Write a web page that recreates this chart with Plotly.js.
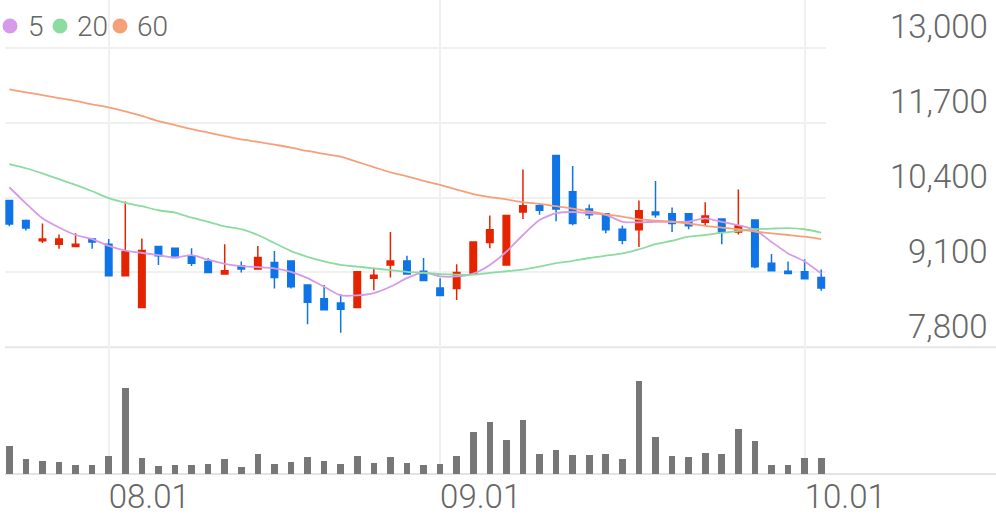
<!DOCTYPE html>
<html>
<head>
<meta charset="utf-8">
<script src="https://cdn.plot.ly/plotly-3.0.1.min.js"></script>
<style>
  html, body { margin: 0; padding: 0; background: #ffffff; }
  #chart { width: 996px; height: 519px; }
</style>
</head>
<body>
<div id="chart"></div>
<script>
// ---------- data ----------
const dates = [
  '2020-07-24','2020-07-27','2020-07-28','2020-07-29','2020-07-30','2020-07-31',
  '2020-08-03','2020-08-04','2020-08-05','2020-08-06','2020-08-07',
  '2020-08-10','2020-08-11','2020-08-12','2020-08-13','2020-08-14',
  '2020-08-18','2020-08-19','2020-08-20','2020-08-21',
  '2020-08-24','2020-08-25','2020-08-26','2020-08-27','2020-08-28','2020-08-31',
  '2020-09-01','2020-09-02','2020-09-03','2020-09-04',
  '2020-09-07','2020-09-08','2020-09-09','2020-09-10','2020-09-11',
  '2020-09-14','2020-09-15','2020-09-16','2020-09-17','2020-09-18',
  '2020-09-21','2020-09-22','2020-09-23','2020-09-24','2020-09-25',
  '2020-09-28','2020-09-29','2020-09-30',
  '2020-10-05','2020-10-06'
];
const openP  = [10350,10000,9650,9590,9550,9680,9590,9040,8490,9550,
                9520,9390,9290,9070,9210,9160,9270,9300,8880,8640,
                8570,8490,9000,9230,9300,9120,8830,8820,9070,9620,
                9230,10150,10260,11130,10500,10200,10120,9850,9840,10150,
                10120,10120,9970,10030,9800,10010,9260,9120,9110,9010];
const highP  = [10350,10020,9950,9760,9780,9690,9680,10330,9690,9550,
                9520,9520,9350,9590,9290,9560,9470,9300,8880,8880,
                8720,9110,9180,9800,9390,9350,9000,9240,9630,10090,
                10090,10890,10300,11130,10950,10280,10120,9910,10350,10690,
                10230,10120,10320,10030,10540,10010,9420,9290,9330,9150];
const lowP   = [9900,9830,9610,9510,9550,9510,9040,9040,8490,9230,
                9360,9210,9100,9070,9100,9160,8820,8820,8200,8450,
                8050,8490,8790,9010,9070,8960,8700,8620,9070,9520,
                9230,10030,10100,9990,9920,10030,9780,9590,9540,10050,
                9800,9850,9920,9590,9760,9170,9130,9080,8990,8780];
const closeP = [9940,9870,9680,9680,9590,9630,9040,9460,9480,9390,
                9360,9260,9100,9130,9160,9360,9010,8850,8580,8450,
                8460,9110,9050,9300,9070,8960,8700,9100,9630,9840,
                10090,10260,10180,10200,9950,10100,9840,9660,10170,10100,
                9950,9910,10080,9800,9910,9200,9130,9080,8990,8830];
const volume = [276000,153000,126000,123000,86000,90000,183000,860000,163000,80000,
                93000,86000,103000,153000,70000,200000,100000,123000,170000,133000,
                100000,183000,110000,170000,106000,90000,100000,180000,416000,523000,
                336000,540000,196000,243000,190000,193000,196000,150000,930000,373000,
                176000,170000,213000,200000,450000,326000,86000,93000,160000,163000];
const ma5  = [10580,10300,10040,9880,9750,9680,9560,9480,9440,9400,
              9360,9400,9320,9250,9210,9190,9170,9110,9000,8850,
              8700,8700,8740,8850,9000,9100,9030,9030,9080,9230,
              9460,9750,10010,10130,10150,10130,10100,9980,9970,9980,
              9980,9980,10040,9980,9920,9840,9630,9430,9290,9080];
const ma20 = [10980,10910,10820,10720,10620,10510,10390,10310,10250,10180,
              10140,10050,9980,9900,9850,9750,9610,9470,9370,9290,
              9230,9200,9170,9140,9110,9090,9070,9060,9060,9090,
              9120,9150,9200,9260,9300,9350,9390,9430,9500,9590,
              9650,9720,9750,9790,9820,9850,9860,9870,9850,9790];
const ma60 = [12280,12230,12180,12130,12080,12020,11970,11900,11820,11730,
              11660,11590,11530,11470,11410,11370,11320,11270,11210,11160,
              11110,11020,10930,10840,10770,10690,10620,10540,10460,10410,
              10370,10320,10290,10250,10210,10160,10110,10070,10020,10000,
              9980,9950,9910,9880,9850,9810,9780,9750,9720,9680];
const priceTicks = [7800, 9100, 10400, 11700, 13000];
const priceTickText = ['7,800', '9,100', '10,400', '11,700', '13,000'];
const dateTicks = ['2020-08-03', '2020-09-01', '2020-10-05'];
const dateTickText = ['08.01', '09.01', '10.01'];
const maNames = ['5', '20', '60'];
const maColors = ['#d69ae9', '#8cdba0', '#f6a07a'];

// ---------- geometry helpers (pixels -> paper) ----------
const W = 996, H = 519;
const M = { l: 5, r: 170, t: 0, b: 45 };
const plotW = W - M.l - M.r, plotH = H - M.t - M.b;
const px = x => (x - M.l) / plotW;
const py = y => (H - M.b - y) / plotH;
const splitY = 347.2;           // price / volume boundary in px
const split = py(splitY);

const FONT = 'Roboto, "Open Sans", sans-serif';
const TXT = '#666666';

// ---------- traces ----------
const traces = [];
traces.push({
  type: 'candlestick', x: dates, open: openP, high: highP, low: lowP, close: closeP,
  xaxis: 'x', yaxis: 'y',
  increasing: { line: { color: '#e42400', width: 1.5 }, fillcolor: '#e42400' },
  decreasing: { line: { color: '#0f74e6', width: 1.5 }, fillcolor: '#0f74e6' },
  whiskerwidth: 0, hoverinfo: 'skip', showlegend: false
});
[ma5, ma20, ma60].forEach((arr, i) => {
  traces.push({
    type: 'scatter', mode: 'lines', x: dates, y: arr, xaxis: 'x', yaxis: 'y',
    line: { color: maColors[i], width: 1.8, shape: 'spline', smoothing: 0.6 },
    hoverinfo: 'skip', showlegend: false, name: maNames[i]
  });
});
traces.push({
  type: 'bar', x: dates, y: volume, xaxis: 'x', yaxis: 'y2',
  width: 0.4, marker: { color: '#777777' }, hoverinfo: 'skip', showlegend: false
});

// ---------- annotations / shapes ----------
const annotations = [];
priceTicks.forEach((v, i) => {
  annotations.push({
    xref: 'paper', yref: 'y', x: px(990), y: v, xanchor: 'right', yanchor: 'middle',
    yshift: 21, text: priceTickText[i], showarrow: false,
    font: { family: FONT, size: 33, color: TXT, weight: 300 }
  });
});
const legendCx = [10, 60, 120];
const legendTx = [26, 75, 135];
const shapes = [];
maNames.forEach((n, i) => {
  shapes.push({
    type: 'circle', xref: 'paper', yref: 'paper',
    xsizemode: 'pixel', ysizemode: 'pixel',
    xanchor: px(legendCx[i]), yanchor: py(26),
    x0: -7.5, x1: 7.5, y0: -7.5, y1: 7.5,
    fillcolor: maColors[i], line: { width: 0 }
  });
  annotations.push({
    xref: 'paper', yref: 'paper', x: px(legendTx[i]), y: py(26),
    xanchor: 'left', yanchor: 'middle', text: n, showarrow: false,
    font: { family: FONT, size: 28, color: TXT, weight: 300 }
  });
});
// pane separators spanning the full width
shapes.push({ type: 'line', xref: 'paper', yref: 'paper', x0: 0, x1: px(996), y0: split, y1: split,
  line: { color: '#e6e6e6', width: 2 }, layer: 'below' });
shapes.push({ type: 'line', xref: 'paper', yref: 'paper', x0: 0, x1: px(996), y0: 0, y1: 0,
  line: { color: '#e3e3e3', width: 2 }, layer: 'below' });

const layout = {
  width: W, height: H, margin: M,
  paper_bgcolor: '#ffffff', plot_bgcolor: '#ffffff',
  showlegend: false, boxgap: 0.44, bargap: 0,
  font: { family: FONT, color: TXT },
  xaxis: {
    type: 'category', anchor: 'y2', range: [-0.26, 49.29],
    rangeslider: { visible: false },
    tickvals: dateTicks, ticktext: dateTickText,
    ticklabelposition: 'outside right', ticks: '', ticklen: 0,
    showgrid: true, gridcolor: '#f0f0f0', gridwidth: 2,
    zeroline: false, showline: false, fixedrange: true,
    tickfont: { family: FONT, size: 33, color: TXT, weight: 300 }
  },
  yaxis: {
    domain: [split, 1], anchor: 'x', side: 'right',
    range: [7800, 13834], tickvals: priceTicks, showticklabels: false, ticks: '',
    showgrid: true, gridcolor: '#f0f0f0', gridwidth: 2, zeroline: false, showline: false
  },
  yaxis2: {
    domain: [0, split], anchor: 'x', range: [0, 1268000],
    showgrid: false, showticklabels: false, ticks: '', zeroline: false, showline: false
  },
  annotations: annotations,
  shapes: shapes
};

Plotly.newPlot('chart', traces, layout, { staticPlot: true, displayModeBar: false });
</script>
</body>
</html>
